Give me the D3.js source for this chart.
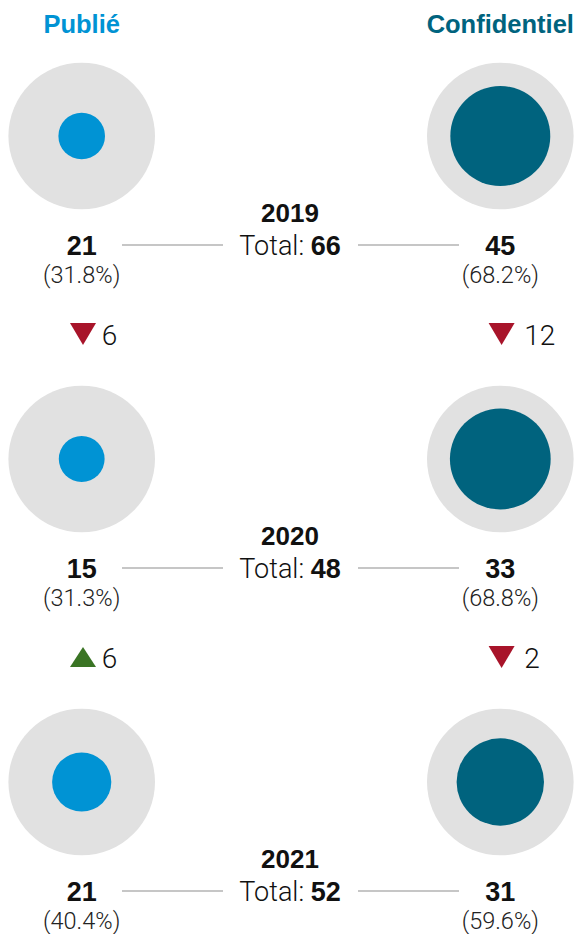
<!DOCTYPE html>
<html>
<head>
<meta charset="utf-8">
<script src="https://cdn.jsdelivr.net/npm/d3@7"></script>
<style>
  body { margin: 0; background: #fff; }
  svg { display: block; font-family: "Liberation Sans", Arial, sans-serif; }
  .light { font-family: Roboto, "Liberation Sans", sans-serif; font-weight: 300; }
</style>
</head>
<body>
<script>
// data
const years = [2019, 2020, 2021];
const publie = [21, 15, 21];
const confidentiel = [45, 33, 31];
const seriesNames = ["Publié", "Confidentiel"];
const seriesColors = ["#0093d4", "#00637e"];

const width = 579, height = 934;
const colX = [81.7, 500.3];   // column centres
const rowY = d3.scaleLinear().domain([0, 1]).range([136, 459]); // row index -> circle centre

// radius follows the share of the year's total; the grey disc is 100%
const r = d3.scaleLinear().domain([0, 1]).range([0, 73.3]);
const pct = d3.format(".1%");

const rows = years.map((year, i) => {
  const total = publie[i] + confidentiel[i];
  return {year, total, values: [publie[i], confidentiel[i]]};
});

const svg = d3.select("body").append("svg")
    .attr("width", width)
    .attr("height", height)
    .attr("viewBox", [0, 0, width, height]);

// headers
svg.append("g")
  .selectAll("text")
  .data(seriesNames)
  .join("text")
    .attr("x", (d, j) => colX[j])
    .attr("y", 33)
    .attr("text-anchor", "middle")
    .attr("font-weight", "bold")
    .attr("font-size", 25.5)
    .attr("fill", (d, j) => seriesColors[j])
    .text(d => d);

const row = svg.append("g")
  .selectAll("g")
  .data(rows)
  .join("g")
    .attr("transform", (d, i) => `translate(0,${rowY(i)})`);

// circles
row.each(function(d) {
  const g = d3.select(this);
  d.values.forEach((v, j) => {
    g.append("circle")
        .attr("cx", colX[j])
        .attr("r", r(1))
        .attr("fill", "#e1e1e1");
    g.append("circle")
        .attr("cx", colX[j])
        .attr("r", r(v / d.total))
        .attr("fill", seriesColors[j]);
    g.append("text")
        .attr("x", colX[j])
        .attr("y", 119)
        .attr("text-anchor", "middle")
        .attr("font-weight", "bold")
        .attr("font-size", 27)
        .attr("fill", "#111")
        .text(v);
    g.append("text")
        .attr("class", "light")
        .attr("x", colX[j])
        .attr("y", 147)
        .attr("text-anchor", "middle")
        .attr("font-size", 23.5)
        .attr("fill", "#222")
        .text(`(${pct(v / d.total)})`);
  });

  // connectors
  g.append("line")
      .attr("x1", 122).attr("x2", 223)
      .attr("y1", 109).attr("y2", 109)
      .attr("stroke", "#b3b3b3").attr("stroke-width", 1.4);
  g.append("line")
      .attr("x1", 358).attr("x2", 459)
      .attr("y1", 109).attr("y2", 109)
      .attr("stroke", "#b3b3b3").attr("stroke-width", 1.4);

  g.append("text")
      .attr("x", 290)
      .attr("y", 86)
      .attr("text-anchor", "middle")
      .attr("font-weight", "bold")
      .attr("font-size", 26)
      .attr("fill", "#111")
      .text(d.year);

  const t = g.append("text")
      .attr("x", 290)
      .attr("y", 119)
      .attr("text-anchor", "middle")
      .attr("font-size", 27)
      .attr("fill", "#111");
  t.append("tspan").attr("class", "light").text("Total: ");
  t.append("tspan").attr("font-weight", "bold").text(d.total);
});

// year-over-year changes between rows
const changes = [];
for (let i = 1; i < rows.length; i++) {
  [0, 1].forEach(j => {
    changes.push({i, j, diff: rows[i].values[j] - rows[i - 1].values[j]});
  });
}
const textGap = [20, 24];

const ch = svg.append("g")
  .selectAll("g")
  .data(changes)
  .join("g")
    .attr("transform", d => `translate(${colX[d.j] + 1.3},${rowY(d.i - 1) + 198})`);

ch.append("path")
    .attr("d", d => d.diff < 0 ? "M-13,-11H13L0,11Z" : "M-13,10H13L0,-10Z")
    .attr("fill", d => d.diff < 0 ? "#a8142a" : "#3a7424");

ch.append("text")
    .attr("class", "light")
    .attr("x", d => textGap[d.j] - 1.3)
    .attr("y", 10.5)
    .attr("font-size", 28)
    .attr("fill", "#111")
    .text(d => Math.abs(d.diff));
</script>
</body>
</html>
